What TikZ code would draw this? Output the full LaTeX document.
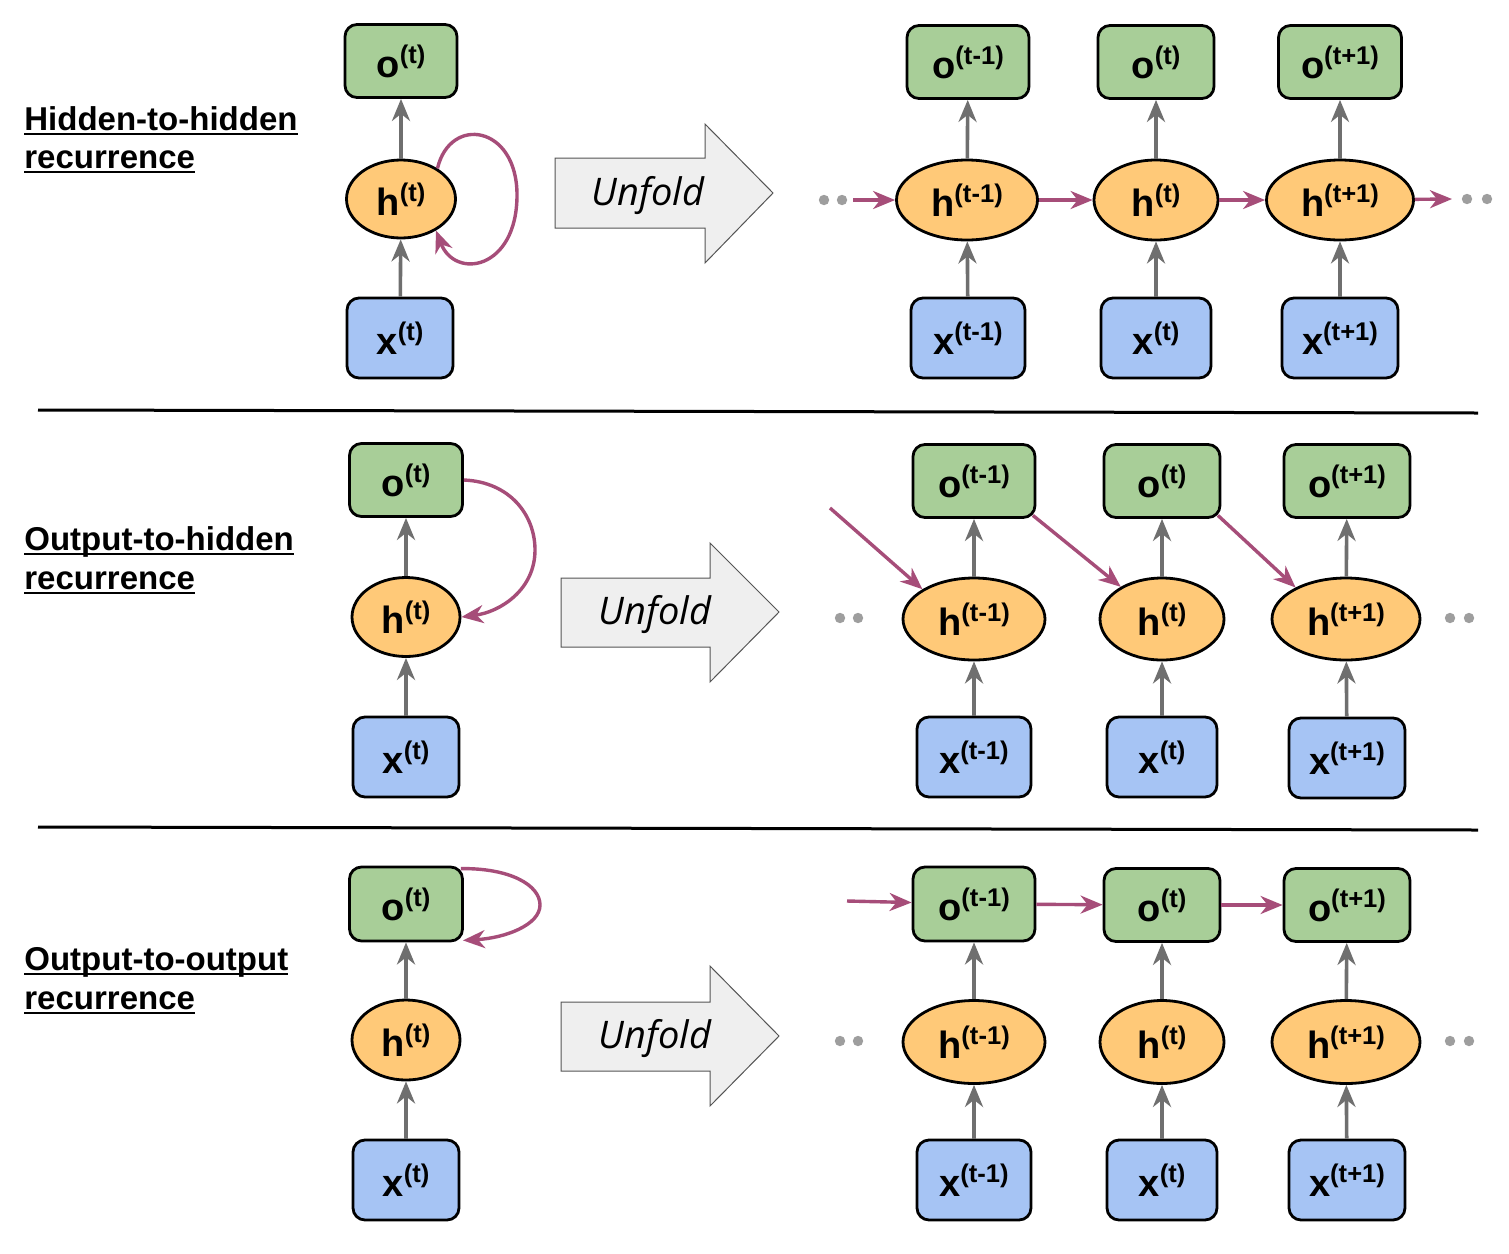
\documentclass[tikz,border=0pt]{standalone}
\usepackage{fontspec}
\setmainfont{Liberation Sans}
\newfontfamily\unfoldfont{Open Sans}
\usetikzlibrary{shapes.geometric,arrows.meta,calc}
\definecolor{ogreen}{HTML}{A8CE98}
\definecolor{xblue}{HTML}{A6C4F4}
\definecolor{horange}{HTML}{FFC978}
\definecolor{recmag}{HTML}{A64D79}
\definecolor{arrgray}{HTML}{6F6F6F}
\definecolor{dotgray}{HTML}{9E9E9E}
\definecolor{unfill}{HTML}{EFEFEF}
\definecolor{undraw}{HTML}{555555}
\newcommand\nlab[2]{{\fontsize{19}{20}\selectfont\bfseries #1}\raisebox{7pt}{\fontsize{12.8}{13}\selectfont\bfseries #2}}
\newcommand\ulab[1]{\setbox0\hbox{\fontsize{16.5}{18}\selectfont\bfseries #1}\rlap{\rule[-2.6pt]{\wd0}{1.1pt}}\box0}
\begin{document}
\begin{tikzpicture}[x=0.5pt,y=-0.5pt,
  box/.style={draw=black,line width=1.4pt,rounded corners=6pt,inner sep=0pt},
  obox/.style={box,fill=ogreen,minimum height=36.5pt},
  xbox/.style={box,fill=xblue,minimum height=40pt},
  hell/.style={ellipse,draw=black,line width=1.4pt,fill=horange,inner sep=0pt,minimum height=40pt},
  tipst/.style={-{Stealth[length=11pt,width=9pt,inset=3.5pt]}},
  up/.style={draw=arrgray,line width=1.8pt,tipst},
  rec/.style={draw=recmag,line width=1.7pt,tipst},
  dotn/.style={circle,fill=dotgray,inner sep=0pt,minimum size=5.2pt},
  unf/.style={draw=undraw,line width=0.5pt,fill=unfill},
  unftext/.style={font=\unfoldfont\itshape\fontsize{19}{21}\selectfont},
  lab/.style={anchor=base west,inner sep=0pt},
  sep/.style={draw=black,line width=1.5pt}]
\useasboundingbox (0,0) rectangle (1509,1253);
\fill[white] (0,0) rectangle (1509,1253);

% ---------- labels ----------
\node[lab] (la1) at (24,130) {\ulab{Hidden-to-hidden}};
\node[lab] (la2) at (24,168) {\ulab{recurrence}};
\node[lab] (lb1) at (24,550) {\ulab{Output-to-hidden}};
\node[lab] (lb2) at (24,589) {\ulab{recurrence}};
\node[lab] (lc1) at (24,970) {\ulab{Output-to-output}};
\node[lab] (lc2) at (24,1009) {\ulab{recurrence}};

% ---------- separators ----------
\draw[sep] (38,410) -- (1478,413);
\draw[sep] (38,827) -- (1478,830);

% ---------- unfold arrows ----------
\draw[unf] (555,158) -- (705,158) -- (705,124) -- (773,193) -- (705,263) -- (705,228) -- (555,228) -- cycle;
\node[unftext] (u1) at (648,196) {Unfold};
\draw[unf] (561,578) -- (710,578) -- (710,543) -- (779,612) -- (710,682) -- (710,647) -- (561,647) -- cycle;
\node[unftext] (u2) at (655,615) {Unfold};
\draw[unf] (561,1002) -- (710,1002) -- (710,966) -- (779,1036) -- (710,1106) -- (710,1071) -- (561,1071) -- cycle;
\node[unftext] (u3) at (655,1039) {Unfold};

% ================= ROW 1 =================
\node[obox,minimum width=56pt] (oA) at (401,61) {\nlab{o}{(t)}};
\node[hell,minimum width=54.5pt,minimum height=39pt] (hA) at (401,199) {\nlab{h}{(t)}};
\node[xbox,minimum width=53pt] (xA) at (400,338) {\nlab{x}{(t)}};
\draw[up] (xA) -- (hA);
\draw[up] (hA) -- (oA);
\draw[rec] (hA.40) .. controls (450,115) and (517,125) .. (517,195) .. controls (517,270) and (455,280) .. (hA.-42);

\node[obox,minimum width=61pt] (o11) at (968,62) {\nlab{o}{(t-1)}};
\node[hell,minimum width=70.5pt] (h11) at (967,200) {\nlab{h}{(t-1)}};
\node[xbox,minimum width=57pt] (x11) at (968,338) {\nlab{x}{(t-1)}};
\node[obox,minimum width=58pt] (o12) at (1156,62) {\nlab{o}{(t)}};
\node[hell,minimum width=62pt] (h12) at (1156,200) {\nlab{h}{(t)}};
\node[xbox,minimum width=55pt] (x12) at (1156,338) {\nlab{x}{(t)}};
\node[obox,minimum width=61.5pt] (o13) at (1340,62) {\nlab{o}{(t+1)}};
\node[hell,minimum width=73.5pt] (h13) at (1340,200) {\nlab{h}{(t+1)}};
\node[xbox,minimum width=58pt] (x13) at (1340,338) {\nlab{x}{(t+1)}};
\foreach \i in {1,2,3}{
  \draw[up] (x1\i) -- (h1\i);
  \draw[up] (h1\i) -- (o1\i);
}
\node[dotn] (d1a) at (824,200) {};
\node[dotn] (d1b) at (842,200) {};
\node[dotn] (d1c) at (1467,199) {};
\node[dotn] (d1d) at (1487,199) {};
\coordinate (l1) at (853,200);
\coordinate (r1) at (1452,199);
\draw[rec] (l1) -- (h11);
\draw[rec] (h11) -- (h12);
\draw[rec] (h12) -- (h13);
\draw[rec] (h13) -- (r1);

% ================= ROW 2 =================
\node[obox,minimum width=56.5pt] (oB) at (406,480) {\nlab{o}{(t)}};
\node[hell,minimum width=54pt,minimum height=39.5pt] (hB) at (406,617) {\nlab{h}{(t)}};
\node[xbox,minimum width=53pt] (xB) at (406,757) {\nlab{x}{(t)}};
\draw[up] (xB) -- (hB);
\draw[up] (hB) -- (oB);
\draw[rec] (oB.east) .. controls (510,482) and (535,515) .. (535,550) .. controls (535,590) and (500,612) .. (hB.east);

\node[obox,minimum width=61pt] (o21) at (974,481) {\nlab{o}{(t-1)}};
\node[hell,minimum width=71pt,minimum height=41pt] (h21) at (974,619) {\nlab{h}{(t-1)}};
\node[xbox,minimum width=57pt] (x21) at (974,757) {\nlab{x}{(t-1)}};
\node[obox,minimum width=58pt] (o22) at (1162,481) {\nlab{o}{(t)}};
\node[hell,minimum width=62pt,minimum height=41pt] (h22) at (1162,619) {\nlab{h}{(t)}};
\node[xbox,minimum width=55pt] (x22) at (1162,757) {\nlab{x}{(t)}};
\node[obox,minimum width=63pt] (o23) at (1347,481) {\nlab{o}{(t+1)}};
\node[hell,minimum width=74pt,minimum height=41pt] (h23) at (1346,619) {\nlab{h}{(t+1)}};
\node[xbox,minimum width=58pt] (x23) at (1347,758) {\nlab{x}{(t+1)}};
\foreach \i in {1,2,3}{
  \draw[up] (x2\i) -- (h2\i);
  \draw[up] (h2\i) -- (o2\i);
}
\node[dotn] (d2a) at (840,618) {};
\node[dotn] (d2b) at (858,618) {};
\node[dotn] (d2c) at (1450,618) {};
\node[dotn] (d2d) at (1469,618) {};
\coordinate (l2) at (830,508);
\draw[rec] (l2) -- (h21.150);
\draw[rec] ($(o21.south east)+(-3.5,-3.5)$) -- (h22.142);
\draw[rec] ($(o22.south east)+(-3.5,-3.5)$) -- (h23.148);

% ================= ROW 3 =================
\node[obox,minimum width=56.5pt,minimum height=37pt] (oC) at (406,904) {\nlab{o}{(t)}};
\node[hell,minimum width=54pt] (hC) at (406,1040) {\nlab{h}{(t)}};
\node[xbox,minimum width=53pt] (xC) at (406,1180) {\nlab{x}{(t)}};
\draw[up] (xC) -- (hC);
\draw[up] (hC) -- (oC);
\draw[rec] ($(oC.north east)+(-3,3)$) .. controls (510,868) and (540,885) .. (540,905) .. controls (540,925) and (505,938) .. ($(oC.south east)+(-1,-2)$);

\node[obox,minimum width=61pt,minimum height=37pt] (o31) at (974,904) {\nlab{o}{(t-1)}};
\node[hell,minimum width=71pt,minimum height=41.5pt] (h31) at (974,1042) {\nlab{h}{(t-1)}};
\node[xbox,minimum width=57pt] (x31) at (974,1180) {\nlab{x}{(t-1)}};
\node[obox,minimum width=58pt] (o32) at (1162,905) {\nlab{o}{(t)}};
\node[hell,minimum width=62pt,minimum height=41.5pt] (h32) at (1162,1042) {\nlab{h}{(t)}};
\node[xbox,minimum width=55pt] (x32) at (1162,1180) {\nlab{x}{(t)}};
\node[obox,minimum width=63pt] (o33) at (1347,905) {\nlab{o}{(t+1)}};
\node[hell,minimum width=74pt,minimum height=41.5pt] (h33) at (1346,1042) {\nlab{h}{(t+1)}};
\node[xbox,minimum width=58pt] (x33) at (1347,1180) {\nlab{x}{(t+1)}};
\foreach \i in {1,2,3}{
  \draw[up] (x3\i) -- (h3\i);
  \draw[up] (h3\i) -- (o3\i);
}
\node[dotn] (d3a) at (840,1041) {};
\node[dotn] (d3b) at (858,1041) {};
\node[dotn] (d3c) at (1450,1041) {};
\node[dotn] (d3d) at (1469,1041) {};
\coordinate (l3) at (847,901);
\draw[rec] (l3) -- (o31);
\draw[rec] (o31) -- (o32);
\draw[rec] (o32) -- (o33);
\end{tikzpicture}
\end{document}
